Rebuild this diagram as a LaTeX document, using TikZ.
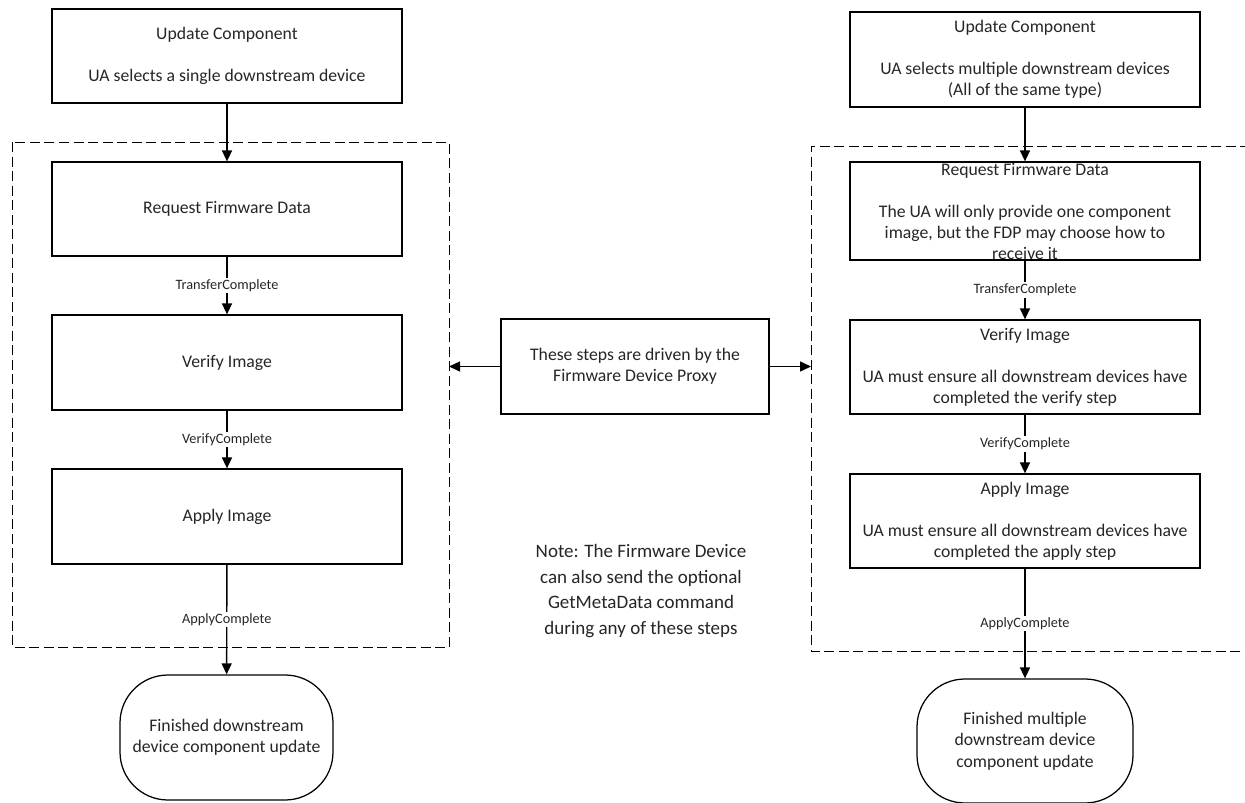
\documentclass[tikz,border=0pt]{standalone}
\usepackage{fontspec}
\setmainfont{Carlito}
\usetikzlibrary{arrows.meta}
\begin{document}
\begin{tikzpicture}[x=1pt,y=-1pt,
  every node/.style={text=black!85},
  box/.style={draw=black, line width=1.25pt, minimum width=350pt, align=center, inner sep=0pt,
    font=\fontsize{17.7}{21}\selectfont},
  term/.style={draw=black, line width=1.25pt, rounded corners=48pt, align=center, inner sep=0pt,
    font=\fontsize{17.7}{21.5}\selectfont},
  lbl/.style={fill=white, inner sep=1.5pt, font=\fontsize{14.3}{16}\selectfont},
  flow/.style={line width=1.4pt, -{Triangle[length=11pt,width=10pt]}},
  dbox/.style={line width=0.95pt, dash pattern=on 10pt off 4.5pt},
  note/.style={align=center, font=\fontsize{19}{25.5}\selectfont}
]
\useasboundingbox[fill=white] (0,0) rectangle (1245,803);

% dashed groups
\draw[dbox] (12,142) rectangle (449,647);
\coordinate (LE) at (449,366.5);
\draw[dbox] (1250,146) -- (811,146) -- (811,651) -- (1250,651);
\coordinate (RE) at (811,366.5);

% left column
\node[box, minimum height=94pt] (L0) at (227,56) {Update Component\\[21pt]UA selects a single downstream device};
\node[box, minimum height=94pt] (L1) at (227,209) {Request Firmware Data};
\node[box, minimum height=95pt] (L2) at (227,362.5) {Verify Image};
\node[box, minimum height=95pt] (L3) at (227,516.5) {Apply Image};
\node[term, minimum width=213pt, minimum height=125pt] (L4) at (226.5,737.5) {Finished downstream\\device component update};

% right column
\node[box, minimum height=95pt] (R0) at (1025,59.5) {Update Component\\[21pt]UA selects multiple downstream devices\\(All of the same type)};
\node[box, minimum height=98pt] (R1) at (1025,211) {Request Firmware Data\\[21pt]The UA will only provide one component\\image, but the FDP may choose how to\\receive it};
\node[box, minimum height=94pt] (R2) at (1025,367) {Verify Image\\[21pt]UA must ensure all downstream devices have\\completed the verify step};
\node[box, minimum height=94pt] (R3) at (1025,521) {Apply Image\\[21pt]UA must ensure all downstream devices have\\completed the apply step};
\node[term, minimum width=216pt, minimum height=124pt] (R4) at (1025,741) {Finished multiple\\downstream device\\component update};

% middle
\node[box, minimum width=268pt, minimum height=95pt] (M) at (635,366.5) {These steps are driven by the\\Firmware Device Proxy};
\node[note] (N) at (641,591) {Note: The Firmware Device\\can also send the optional\\GetMetaData command\\during any of these steps};

% connectors left
\draw[flow] (L0) -- (L1);
\draw[flow] (L1) -- node[lbl] {TransferComplete} (L2);
\draw[flow] (L2) -- node[lbl] {VerifyComplete} (L3);
\draw[flow] (L3) -- node[lbl] {ApplyComplete} (L4);

% connectors right
\draw[flow] (R0) -- (R1);
\draw[flow] (R1) -- node[lbl] {TransferComplete} (R2);
\draw[flow] (R2) -- node[lbl] {VerifyComplete} (R3);
\draw[flow] (R3) -- node[lbl] {ApplyComplete} (R4);

% middle arrows
\draw[flow] (M.west) -- (LE);
\draw[flow] (M.east) -- (RE);
\end{tikzpicture}
\end{document}
